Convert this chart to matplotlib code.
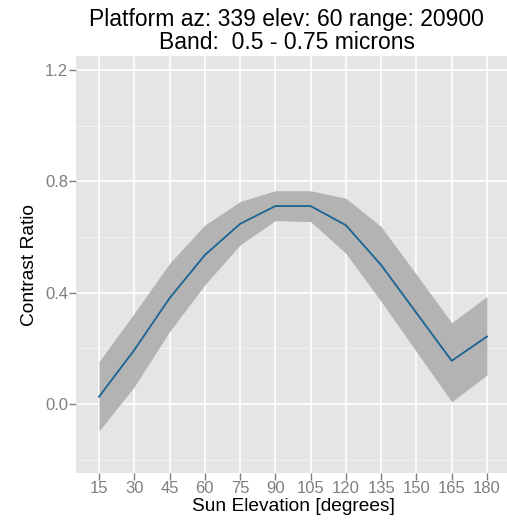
import numpy as np
import matplotlib
matplotlib.use('Agg')
import matplotlib.pyplot as plt
from matplotlib import rcParams
rcParams['font.family'] = 'sans-serif'
rcParams['font.sans-serif'] = ['Liberation Sans', 'DejaVu Sans']

# contrast ratio vs sun elevation, with uncertainty band
sunElev = [15, 30, 45, 60, 75, 90, 105, 120, 135, 150, 165, 180]
contrast = [0.026, 0.194, 0.380, 0.535, 0.647, 0.711, 0.711, 0.642, 0.499, 0.327, 0.155, 0.242]
upper = [0.152, 0.326, 0.505, 0.643, 0.727, 0.766, 0.766, 0.739, 0.637, 0.465, 0.292, 0.386]
lower = [-0.097, 0.062, 0.260, 0.428, 0.571, 0.659, 0.655, 0.541, 0.368, 0.188, 0.008, 0.104]

xTicks = [15, 30, 45, 60, 75, 90, 105, 120, 135, 150, 165, 180]
yTicks = [0.0, 0.4, 0.8, 1.2]
yMinor = [-0.2, 0.2, 0.6, 1.0]

W, H = 507, 528
fig = plt.figure(figsize=(W / 100, H / 100), dpi=100)
fig.patch.set_facecolor('white')
ax = fig.add_axes([76 / W, (H - 472.7) / H, (510 - 76) / W, (472.7 - 56.3) / H])
ax.set_facecolor('#E5E5E5')

ax.fill_between(sunElev, lower, upper, color='#B3B3B3', linewidth=0, zorder=2)
ax.plot(sunElev, contrast, color='#1a6493', linewidth=1.3, zorder=3)

ax.set_xlim(5.2, 189.8)
ax.set_ylim(-0.247, 1.249)
ax.set_xticks(xTicks)
ax.set_yticks(yTicks)
ax.set_yticks(yMinor, minor=True)
ax.set_yticklabels(['0.0', '0.4', '0.8', '1.2'])

ax.grid(True, which='major', color='white', linewidth=1.2, zorder=1)
ax.grid(True, which='minor', axis='y', color='#F2F2F2', linewidth=0.7, zorder=1)
ax.set_axisbelow(True)
for s in ax.spines.values():
    s.set_visible(False)
ax.tick_params(which='major', colors='#7F7F7F', labelsize=12, length=4.7, width=1, pad=1)
ax.tick_params(which='minor', length=0)

ax.set_xlabel('Sun Elevation [degrees]', fontsize=13.8, color='black', labelpad=1.5)
ax.set_ylabel('Contrast Ratio', fontsize=13.8, color='black', labelpad=5)
ttl = ax.set_title('Platform az: 339 elev: 60 range: 20900\nBand:  0.5 - 0.75 microns',
                   fontsize=16.5, color='black', linespacing=1.0, pad=5)
ttl.set_x(0.486)

plt.savefig('out.png', dpi=100)
